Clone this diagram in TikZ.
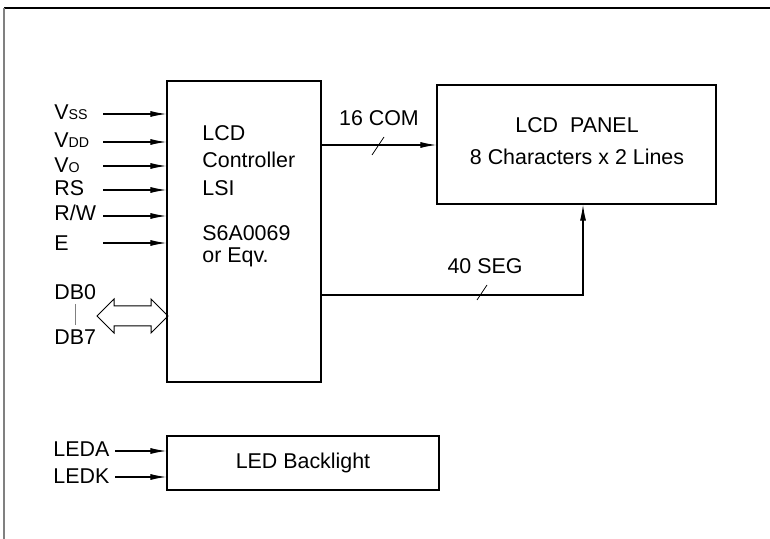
\documentclass[tikz,border=0pt]{standalone}
\usepackage{fontspec}
\setmainfont{Liberation Sans}
\usetikzlibrary{arrows.meta,positioning,shapes.arrows}
\newcommand{\lowcap}[1]{{\fontsize{7.1}{8}\selectfont #1}}

\begin{document}
\begin{tikzpicture}[x=0.5pt, y=-0.5pt,
    block/.style={rectangle, draw, line width=0.6pt, inner sep=0pt, font=\fontsize{10.7}{13}\selectfont},
    txt/.style={inner sep=0pt, font=\fontsize{10.7}{13}\selectfont},
    pinlbl/.style={txt, anchor=west},
    sigarrow/.style={-{Latex[length=8pt,width=3pt]}, line width=0.55pt},
    bus/.style={double arrow, draw, line width=0.5pt, inner sep=4.75pt, double arrow head extend=3.5pt, minimum height=35.5pt}
]
\useasboundingbox (0,0) rectangle (770,539);
% frame
\draw[line width=1.1pt] (4,8) -- (770,8);
\draw[line width=0.8pt, gray] (4,8) -- (4,539);

% blocks
\node[block, minimum width=77pt, minimum height=150.5pt] (ctrl) at (244,231.5) {};
\node[txt, align=left, anchor=west, font=\fontsize{10.7}{13.75}\selectfont] (ctrlname) at (202,160.5) {LCD\\Controller\\LSI};
\node[txt, align=left, anchor=west, font=\fontsize{10.7}{11}\selectfont] (ctrlchip) at (202,246) {S6A0069\\or Eqv.};
\node[block, minimum width=139.5pt, minimum height=59.5pt] (panel) at (576.5,144.5) {};
\node[txt] (paneltitle) at (577,125) {LCD\ \ PANEL};
\node[txt] (panelsub) at (577,157) {8 Characters x 2 Lines};
\node[block, minimum width=136pt, minimum height=27pt] (led) at (303,463) {LED Backlight};

% controller inputs
\node[pinlbl] (vss) at (54,112) {V\lowcap{SS}};
\node[pinlbl] (vdd) at (54,140) {V\lowcap{DD}};
\node[pinlbl] (vo) at (54,165) {V\lowcap{O}};
\node[pinlbl] (rs) at (54,188) {RS};
\node[pinlbl] (rw) at (54,213) {R/W};
\node[pinlbl] (en) at (54,243) {E};
\coordinate (vssin) at (103,114);
\coordinate (vddin) at (103,142);
\coordinate (voin) at (103,166);
\coordinate (rsin) at (103,190);
\coordinate (rwin) at (103,216);
\coordinate (enin) at (103,243);
\draw[sigarrow] (vssin) -- (vssin -| ctrl.west);
\draw[sigarrow] (vddin) -- (vddin -| ctrl.west);
\draw[sigarrow] (voin) -- (voin -| ctrl.west);
\draw[sigarrow] (rsin) -- (rsin -| ctrl.west);
\draw[sigarrow] (rwin) -- (rwin -| ctrl.west);
\draw[sigarrow] (enin) -- (enin -| ctrl.west);

% data bus
\node[pinlbl] (db0) at (54,292) {DB0};
\node[pinlbl] (db7) at (54,337) {DB7};
\draw[gray, line width=0.6pt, shorten <=2pt, shorten >=2pt] (db0) -- (db7);
\node[bus] (dbbus) at (132.5,316) {};

% controller to panel
\coordinate (com) at (322,145);
\draw[sigarrow] (com) -- (com -| panel.west);
\draw[line width=0.4pt] (372,155) -- (384,137);
\node[txt] (comlbl) at (379,118) {16 COM};
\coordinate (seg) at (583,295);
\draw[sigarrow] (seg -| ctrl.east) -- (seg) -- (seg |- panel.south);
\draw[line width=0.4pt] (477,300) -- (487,285);
\node[txt] (seglbl) at (485,266) {40 SEG};

% backlight
\node[pinlbl] (leda) at (53,449) {LEDA};
\node[pinlbl] (ledk) at (53,476) {LEDK};
\coordinate (ledain) at (115,451);
\coordinate (ledkin) at (115,477);
\draw[sigarrow] (ledain) -- (ledain -| led.west);
\draw[sigarrow] (ledkin) -- (ledkin -| led.west);
\end{tikzpicture}
\end{document}
